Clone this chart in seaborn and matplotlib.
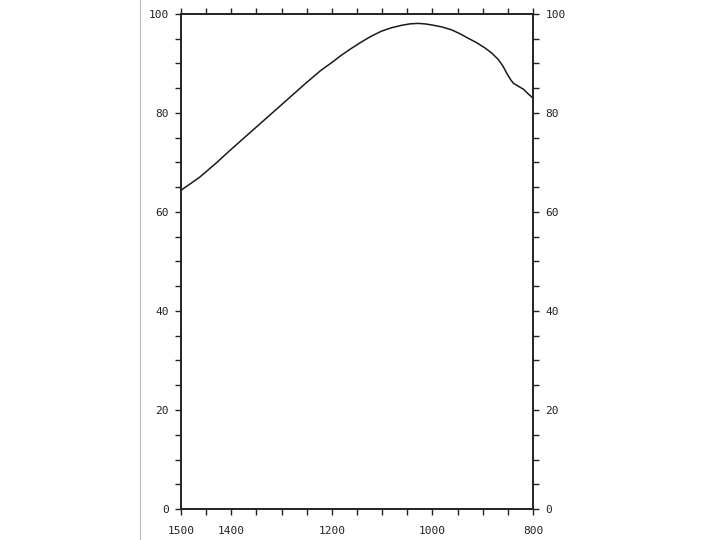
import pandas as pd
import matplotlib.pyplot as plt
import seaborn as sns
from matplotlib.lines import Line2D
from matplotlib.ticker import MultipleLocator, FixedLocator

# 곡선 값 - x축은 1500 -> 800 역방향
wavenumber = [1500, 1480, 1462, 1430, 1402, 1372, 1342, 1312, 1282, 1252,
              1222, 1200, 1182, 1162, 1142, 1122, 1102, 1082, 1062, 1045,
              1029, 1015, 1002, 982, 962, 945, 929, 912, 895, 882,
              869, 860, 852, 845, 839, 829, 819, 810, 800]
value = [64.4, 65.8, 67.1, 69.9, 72.5, 75.2, 77.9, 80.6, 83.3, 86.0,
         88.6, 90.2, 91.6, 93.0, 94.3, 95.5, 96.5, 97.2, 97.7, 98.0,
         98.1, 98.0, 97.8, 97.4, 96.8, 96.0, 95.1, 94.2, 93.1, 92.1,
         90.8, 89.5, 88.0, 86.8, 86.0, 85.4, 84.8, 83.9, 83.0]

x_labels = [1500, 1400, 1200, 1000, 800]
y_labels = [0, 20, 40, 60, 80, 100]

df = pd.DataFrame({'x': wavenumber, 'y': value})

sns.set_theme(style="ticks")
plt.rcParams['font.family'] = ['DejaVu Sans Mono']

fig = plt.figure(figsize=(7.2, 5.4), dpi=100)
ax = fig.add_axes([0.2514, 0.0574, 0.4889, 0.9167])

sns.lineplot(data=df, x='x', y='y', ax=ax, color='#1a1a1a', linewidth=1.1)

ax.set_xlim(1500, 800)
ax.set_ylim(0, 100)
ax.set_xlabel('')
ax.set_ylabel('')

# 축 눈금 - 라벨은 일부만
ax.xaxis.set_major_locator(FixedLocator(x_labels))
ax.xaxis.set_minor_locator(MultipleLocator(50))
ax.yaxis.set_major_locator(FixedLocator(y_labels))
ax.yaxis.set_minor_locator(MultipleLocator(5))

ax.tick_params(axis='both', which='both', direction='out', color='#222222',
               top=True, right=True, labelright=True, labeltop=False,
               labelsize=8, labelcolor='#222222')
ax.tick_params(axis='both', which='major', length=4, width=1)
ax.tick_params(axis='both', which='minor', length=4, width=1)
ax.tick_params(axis='x', which='major', pad=8)
ax.tick_params(axis='y', which='major', pad=5)

for s in ax.spines.values():
    s.set_visible(True)
    s.set_color('#222222')
    s.set_linewidth(1.4)

# 스캔 흔적 같은 왼쪽 희미한 세로선
fig.add_artist(Line2D([140 / 720, 140 / 720], [0, 1], color='#bbbbbb', linewidth=0.8))

plt.savefig('out.png', dpi=100)
